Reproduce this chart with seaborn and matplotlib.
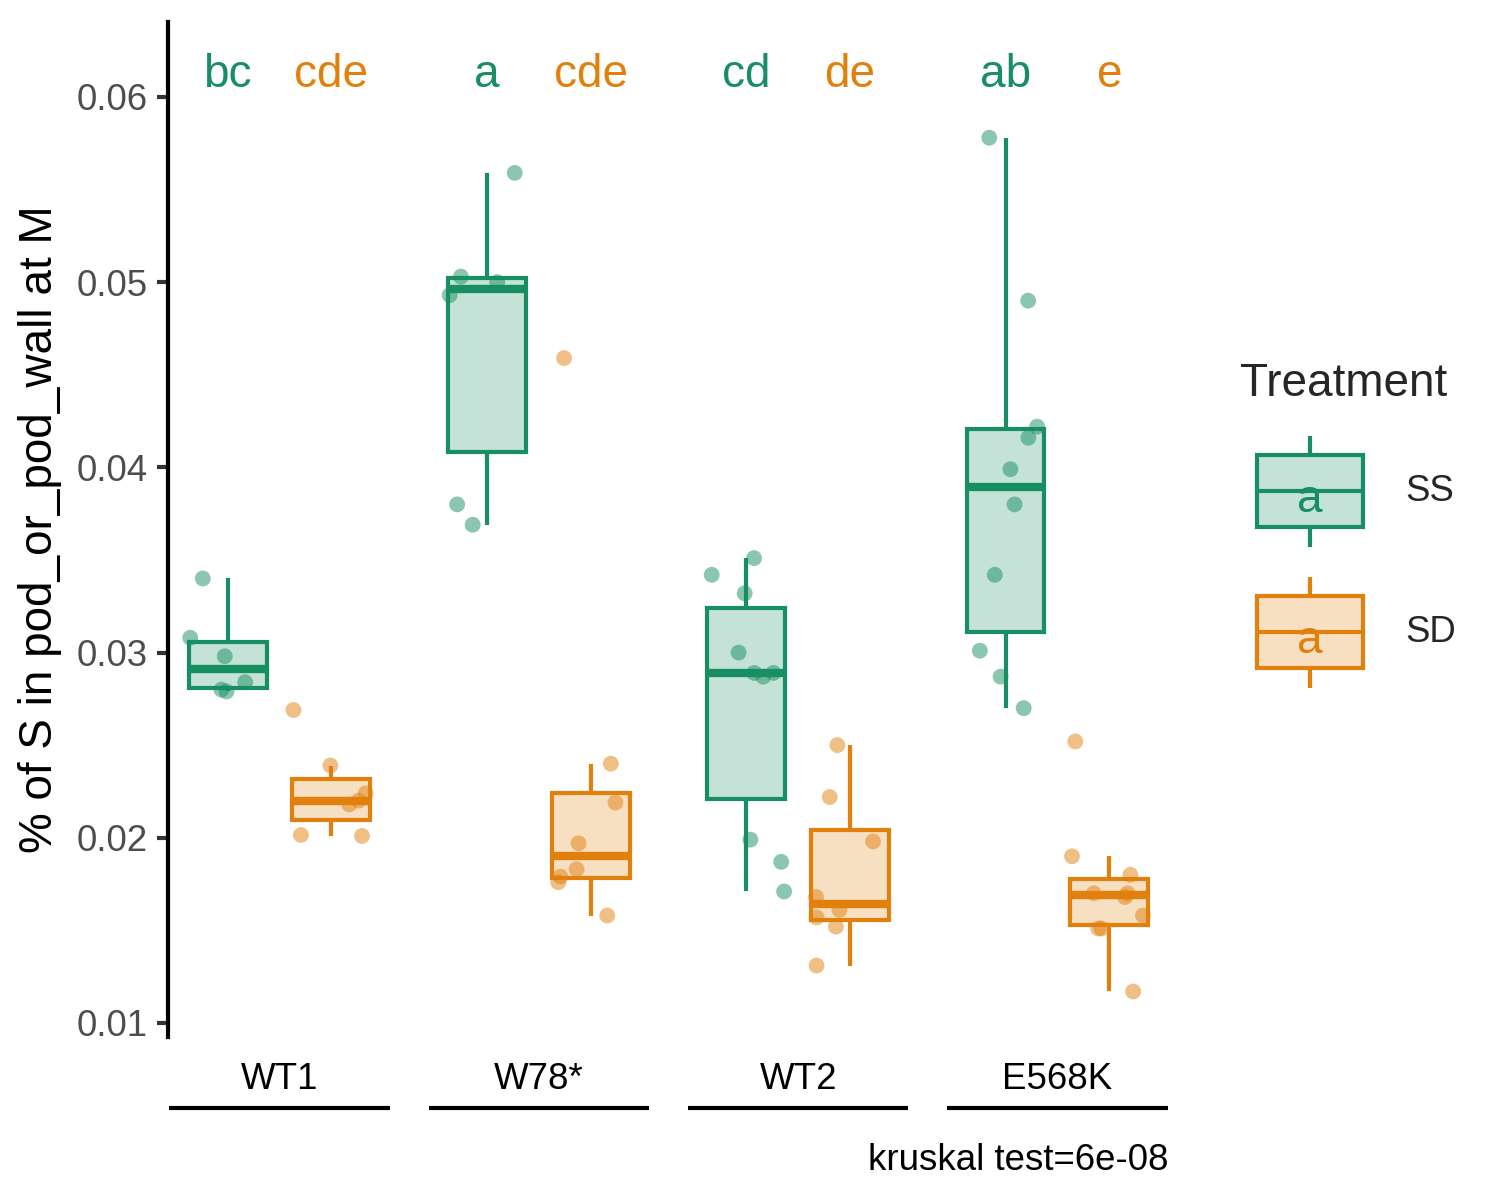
import numpy as np
import pandas as pd
import matplotlib
matplotlib.use("Agg")
import matplotlib.pyplot as plt
import seaborn as sns
from matplotlib.colors import to_rgba
from matplotlib.legend_handler import HandlerBase
from matplotlib.lines import Line2D
from matplotlib.patches import Rectangle
from matplotlib.text import Text

# % of S in pod_or_pod_wall at M, per genotype and treatment
genotypes = ["WT1", "W78*", "WT2", "E568K"]
treatments = ["SS", "SD"]

wt1_ss = [0.0340, 0.0308, 0.0298, 0.0284, 0.0280, 0.0279]
wt1_sd = [0.0269, 0.0239, 0.0224, 0.0220, 0.0218, 0.02015, 0.0201]
w78_ss = [0.0559, 0.0503, 0.0500, 0.0493, 0.0380, 0.0369]
w78_sd = [0.0459, 0.0240, 0.0219, 0.0197, 0.0183, 0.0179, 0.0176, 0.0158]
wt2_ss = [0.0351, 0.0342, 0.0332, 0.0300, 0.0289, 0.0287, 0.0289, 0.0199, 0.0187, 0.0171]
wt2_sd = [0.0250, 0.0222, 0.0198, 0.0168, 0.0161, 0.0157, 0.0152, 0.0131]
e568k_ss = [0.0578, 0.0490, 0.0422, 0.0416, 0.0399, 0.0380, 0.0342, 0.0301, 0.0287, 0.0270]
e568k_sd = [0.0252, 0.0190, 0.0180, 0.0170, 0.0168, 0.0170, 0.0158, 0.0151, 0.0151, 0.0117]

# compact letter display from the post-hoc test
ss_letters = ["bc", "a", "cd", "ab"]
sd_letters = ["cde", "cde", "de", "e"]
kruskal_p = "6e-08"

colors = {"SS": "#178F63", "SD": "#E2800D"}

rows = []
for g, ss, sd in zip(genotypes, [wt1_ss, w78_ss, wt2_ss, e568k_ss], [wt1_sd, w78_sd, wt2_sd, e568k_sd]):
    rows += [(g, "SS", v) for v in ss]
    rows += [(g, "SD", v) for v in sd]
df = pd.DataFrame(rows, columns=["Genotype", "Treatment", "S"])

sns.set_theme(style="ticks")
plt.rcParams["font.family"] = ["Liberation Sans", "DejaVu Sans"]


class BoxKey(HandlerBase):
    # legend key: ggplot-like boxplot glyph with the letter on top
    def create_artists(self, legend, orig_handle, xdescent, ydescent, width, height, fontsize, trans):
        c = orig_handle.get_color()
        x0, y0 = -xdescent, -ydescent
        inset = 0.12 * width
        lo, hi = y0 + 0.175 * height, y0 + 0.825 * height
        xm, ym = x0 + width / 2, y0 + height / 2
        rect = Rectangle((x0 + inset, lo), width - 2 * inset, hi - lo, facecolor=to_rgba(c, 0.25),
                         edgecolor=c, lw=1.0, transform=trans)
        arts = [rect]
        for xs, ys in [([xm, xm], [y0, lo]), ([xm, xm], [hi, y0 + height]),
                       ([x0 + inset, x0 + width - inset], [ym, ym])]:
            arts.append(Line2D(xs, ys, color=c, lw=1.0, solid_capstyle="butt", transform=trans))
        arts.append(Text(xm, ym - 0.08 * height, "a", color=c, ha="center", va="center", fontsize=11,
                         fontfamily=["Liberation Sans", "DejaVu Sans"], transform=trans))
        return arts


fig = plt.figure(figsize=(5, 4), dpi=300)
ax = fig.add_axes([0.112, 0.1358, 0.6673, 0.8459])

for t in treatments:
    c = colors[t]
    sns.boxplot(data=df[df.Treatment == t], x="Genotype", y="S", hue="Treatment",
                order=genotypes, hue_order=treatments, palette=colors, saturation=1,
                width=0.8, gap=0.25, dodge=True, whis=1.5, showfliers=False,
                linecolor=c, linewidth=1.0,
                boxprops={"facecolor": to_rgba(c, 0.25)},
                medianprops={"linewidth": 2.0},
                capprops={"visible": False},
                legend=False, ax=ax)

np.random.seed(11)
sns.stripplot(data=df, x="Genotype", y="S", hue="Treatment", order=genotypes,
              hue_order=treatments, palette=colors, dodge=True, jitter=0.3, size=3.8,
              alpha=0.5, linewidth=0, zorder=3, legend=False, ax=ax)

# letters above each box
letter_y = 0.0612
for i in range(len(genotypes)):
    ax.text(i - 0.2, letter_y, ss_letters[i], color=colors["SS"], ha="center", va="center", fontsize=11)
    ax.text(i + 0.2, letter_y, sd_letters[i], color=colors["SD"], ha="center", va="center", fontsize=11)

ax.set_xlim(-0.43, 3.43)
ax.set_ylim(0.00924, 0.06405)
yt = [0.01, 0.02, 0.03, 0.04, 0.05, 0.06]
ax.set_yticks(yt, [f"{v:.2f}" for v in yt])
ax.set_xticks(range(len(genotypes)), genotypes)
ax.tick_params(axis="y", length=2.75, width=1.0, color="#333333", labelcolor="#4D4D4D",
               labelsize=8.8, pad=2.2)
ax.tick_params(axis="x", length=0, labelcolor="black", labelsize=8.8, pad=6)
ax.set_xlabel("")
ax.set_ylabel("% of S in pod_or_pod_wall at M", fontsize=11, color="black", labelpad=3.3)
for s in ["top", "right", "bottom"]:
    ax.spines[s].set_visible(False)
ax.spines["left"].set_linewidth(1.0)
ax.spines["left"].set_color("black")

# nested axis underlines
for i in range(len(genotypes)):
    ax.plot([i - 0.425, i + 0.425], [-0.07, -0.07], transform=ax.get_xaxis_transform(),
            color="black", lw=1.0, clip_on=False, solid_capstyle="butt")

fig.text(1169 / 1500, 1 - 1170 / 1200, f"kruskal test={kruskal_p}", ha="right", va="baseline",
         fontsize=8.8, color="black")

handles = [Line2D([], [], color=colors[t]) for t in treatments]
fig.legend(handles, treatments, handler_map={Line2D: BoxKey()}, title="Treatment",
           loc="upper left", bbox_to_anchor=(1240 / 1500, 1 - 362 / 1200), frameon=False,
           fontsize=8.8, title_fontsize=11, handlelength=3.82, handleheight=4.27,
           labelspacing=0.82, handletextpad=0.68, borderpad=0, borderaxespad=0,
           alignment="left")

fig.savefig("out.png", dpi=300)
